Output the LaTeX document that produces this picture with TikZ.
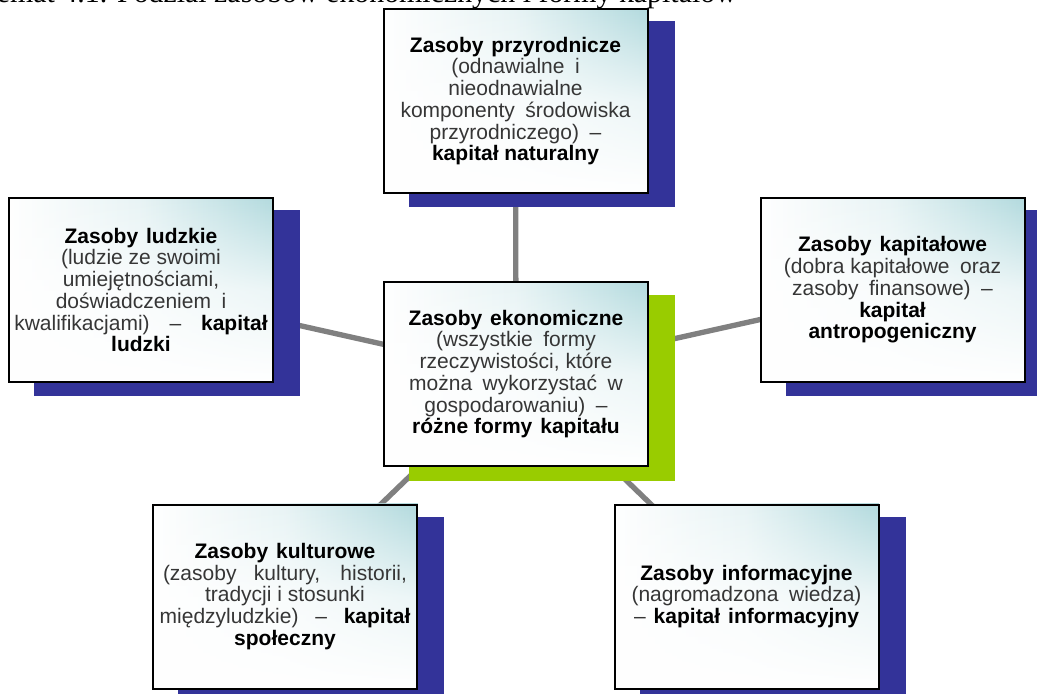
\documentclass[tikz,border=0pt]{standalone}
\usepackage{fontspec}
\setmainfont{Liberation Sans}
\newfontfamily\captionserif{Liberation Serif}
\usetikzlibrary{backgrounds,fadings}

\definecolor{shadenavy}{HTML}{333399}
\definecolor{shadegreen}{HTML}{99CC00}
\definecolor{linkgray}{HTML}{808080}
\definecolor{boxteal}{HTML}{B2DADE}
\definecolor{bodytext}{HTML}{363636}

% bold heading / capital name inside a box
\newcommand\kbold[1]{\textcolor{black}{\bfseries #1}}
% widened word gaps
\newcommand\wg{\hspace{0.5em}}
\newcommand\hg{\hspace{0.38em}}

% teal tint: strongest at the right, cleared towards the bottom
\tikzfading[name=tintright, left color=transparent!100, right color=transparent!0, middle color=transparent!70]
\tikzfading[name=cleardown, top color=transparent!100, bottom color=transparent!0, middle color=transparent!25]

\begin{document}
\begin{tikzpicture}[x=0.75pt,y=-0.75pt,
  resbox/.style={draw=black, line width=1.5pt,
    minimum width=198pt, minimum height=138pt, inner sep=0pt,
    align=center, text=bodytext,
    font=\fontsize{15.75}{16.3}\selectfont},
  link/.style={draw=linkgray, line width=4pt},
  navyshadow/.style={fill=shadenavy},
  greenshadow/.style={fill=shadegreen}]

\useasboundingbox (0,0) rectangle (1037,693);

% caption line, cut by the top edge
\node[anchor=base east, inner sep=0pt,
      font=\captionserif\fontsize{22.4}{26}\selectfont] (cap) at (737,2)
  {Schemat 4.1. Podział zasobów ekonomicznych i formy kapitałów};

% resource boxes
\node[resbox] (C) at (516,374)
  {\kbold{Zasoby\hg ekonomiczne}\\(wszystkie\wg formy\\rzeczywistości, które\\można\wg wykorzystać\wg w\\gospodarowaniu)\wg –\\\kbold{różne formy\hg kapitału}};
\node[resbox] (T) at (515.5,101)
  {\kbold{Zasoby\hg przyrodnicze}\\(odnawialne\wg i\\nieodnawialne\\komponenty\wg środowiska\\przyrodniczego)\wg –\\\kbold{kapitał naturalny}};
\node[resbox] (L) at (141,290)
  {\kbold{Zasoby\hg ludzkie}\\(ludzie ze swoimi\\umiejętnościami,\\doświadczeniem\wg i\\\makebox[190pt][s]{kwalifikacjami) – \kbold{kapitał}}\\\kbold{ludzki}};
\node[resbox] (R) at (892.5,290)
  {\kbold{Zasoby\hg kapitałowe}\\(dobra kapitałowe\wg oraz\\zasoby\wg finansowe)\wg –\\\kbold{kapitał}\\\kbold{antropogeniczny}};
\node[resbox] (BL) at (285,596.5)
  {\kbold{Zasoby\hg kulturowe}\\\makebox[183pt][s]{(zasoby kultury, historii,}\\tradycji i stosunki\\\makebox[188pt][s]{międzyludzkie) – \kbold{kapitał}}\\\kbold{społeczny}};
\node[resbox] (BR) at (746.5,596.5)
  {\kbold{Zasoby\hg informacyjne}\\(nagromadzona\wg wiedza)\\–\hg\kbold{kapitał\hg informacyjny}};

\begin{scope}[on background layer]
  \fill[white] (0,0) rectangle (1037,693);
  % spokes from the hub
  \draw[link] (C.center) -- (T.center);
  \draw[link] (C.center) -- (L.center);
  \draw[link] (C.center) -- (R.center);
  \draw[link] (C.center) -- (BL.center);
  \draw[link] (C.center) -- (BR.center);
  % offset shadows
  \foreach \b in {T,L,R,BL,BR}
    \fill[navyshadow] ([shift={(26,13)}]\b.south west) rectangle ([shift={(26,13)}]\b.north east);
  \fill[greenshadow] ([shift={(26,14)}]C.south west) rectangle ([shift={(26,14)}]C.north east);
  % box faces: white base, teal tint, whitened lower part
  \foreach \b in {T,L,R,C,BL,BR} {
    \fill[white] (\b.south west) rectangle (\b.north east);
    \fill[boxteal, path fading=tintright] (\b.south west) rectangle (\b.north east);
    \fill[white, path fading=cleardown] (\b.south west) rectangle (\b.north east);
  }
\end{scope}
\end{tikzpicture}
\end{document}
